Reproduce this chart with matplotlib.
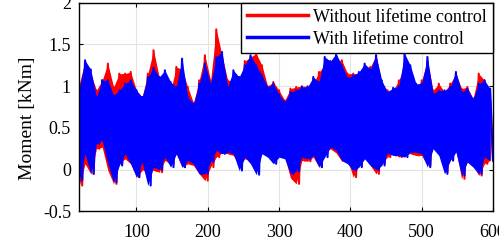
import numpy as np
import matplotlib
matplotlib.use('Agg')
import matplotlib.pyplot as plt

# time bins (start of each bin); peak read at t, trough at t+4
t_bins = np.arange(20, 600, 8)

# upper / lower envelope of each series [kNm]
red_hi = [1.03, 1.30, 1.15, 0.95, 1.07, 1.27, 0.99, 1.15, 1.15, 1.17,
          0.95, 0.87, 1.15, 1.43, 1.11, 1.15, 0.95, 1.23, 1.20, 0.99,
          0.80, 1.07, 1.37, 1.07, 1.68, 1.37, 1.07, 1.07, 1.03, 1.30,
          1.35, 1.39, 1.25, 1.00, 1.05, 0.95, 0.83, 0.97, 0.99, 1.00,
          1.00, 1.03, 1.17, 1.25, 1.20, 1.30, 1.31, 1.15, 1.15, 1.15,
          1.23, 1.23, 1.37, 1.03, 0.95, 0.95, 1.07, 1.25, 1.17, 0.95,
          1.07, 1.30, 0.95, 1.03, 0.93, 1.03, 1.15, 0.97, 0.99, 0.85,
          1.15, 1.07, 0.85]
red_lo = [-0.19, 0.07, -0.05, 0.25, 0.27, -0.01, -0.17, 0.07, 0.13, 0.07,
          -0.09, -0.01, 0.03, -0.01, -0.03, 0.11, 0.07, 0.19, 0.03, 0.07,
          0.05, -0.05, -0.13, 0.03, 0.15, 0.20, 0.19, 0.17, 0.05, 0.13,
          0.11, 0.10, 0.25, 0.20, 0.15, 0.20, 0.15, -0.10, -0.17, 0.11,
          0.10, 0.15, 0.03, 0.20, 0.25, 0.20, 0.10, 0.12, -0.09, 0.05,
          0.14, 0.05, -0.05, 0.07, 0.15, 0.20, 0.15, 0.19, 0.19, 0.17,
          0.17, 0.05, 0.27, 0.20, -0.03, 0.11, 0.23, -0.11, 0.11, 0.05,
          -0.07, 0.07, 0.11]
blue_hi = [0.98, 1.31, 1.20, 0.87, 1.07, 1.07, 0.89, 0.95, 1.03, 1.07,
           0.95, 0.87, 1.11, 1.22, 1.11, 1.19, 1.05, 0.99, 1.33, 0.87,
           0.79, 1.03, 1.27, 1.03, 1.35, 1.41, 0.99, 1.19, 1.11, 1.25,
           1.37, 1.25, 1.13, 0.99, 1.03, 0.90, 0.81, 0.93, 0.95, 0.99,
           0.99, 1.11, 1.05, 1.35, 1.30, 1.39, 1.25, 1.10, 1.13, 1.17,
           1.27, 1.20, 1.37, 1.07, 0.93, 0.98, 1.00, 1.39, 1.25, 1.03,
           1.03, 1.35, 0.91, 0.95, 0.95, 0.99, 1.17, 0.93, 0.97, 0.85,
           1.03, 1.07, 0.97]
blue_lo = [-0.13, 0.19, -0.05, 0.31, 0.35, 0.07, -0.15, 0.05, 0.19, 0.07,
           -0.09, 0.09, -0.19, 0.03, 0.00, 0.15, 0.03, 0.19, 0.03, 0.11,
           0.07, -0.05, -0.05, 0.09, 0.23, 0.19, 0.21, 0.19, -0.01, 0.15,
           0.07, -0.06, 0.19, 0.15, 0.07, 0.15, 0.13, -0.05, -0.02, 0.15,
           0.13, 0.17, 0.03, 0.15, 0.27, 0.23, 0.11, 0.07, -0.01, 0.03,
           0.13, 0.05, 0.00, 0.05, 0.20, 0.17, 0.17, 0.15, 0.21, 0.21,
           0.19, 0.03, 0.25, 0.17, -0.05, 0.11, 0.21, -0.07, 0.09, 0.03,
           -0.05, 0.15, 0.11]

x_ticks = [100, 200, 300, 400, 500, 600]
y_ticks = [-0.5, 0, 0.5, 1, 1.5, 2]

plt.rcParams['font.family'] = ['Liberation Serif', 'DejaVu Serif']
plt.rcParams['font.size'] = 13
plt.rcParams['axes.unicode_minus'] = False

# interleave peaks and troughs into one oscillating trace
t = np.column_stack([t_bins, t_bins + 4]).ravel()
red = np.column_stack([red_hi, red_lo]).ravel()
blue = np.column_stack([blue_hi, blue_lo]).ravel()

fig = plt.figure(figsize=(4.99, 2.43), dpi=100)
ax = fig.add_axes([0.159, 0.130, 0.829, 0.859])

# the signal oscillates faster than a pixel, so the band between
# envelopes shows as solid colour; blue sits on top of red
ax.fill_between(t_bins, red_lo, red_hi, color='#ff0000', lw=0, zorder=2.0)
ax.plot(t, red, color='#ff0000', lw=1.5, zorder=2.1,
        label='Without lifetime control')
ax.fill_between(t_bins, blue_lo, blue_hi, color='#0000ff', lw=0, zorder=2.2)
ax.plot(t, blue, color='#0000ff', lw=1.5, zorder=2.3,
        label='With lifetime control')

ax.set_xlim(20, 600)
ax.set_ylim(-0.5, 2)
ax.set_xticks(x_ticks)
ax.set_yticks(y_ticks)
ax.set_yticklabels(['%g' % v for v in y_ticks])
ax.grid(True, color='#e3e3e3', lw=0.8)
ax.set_axisbelow(True)
ax.tick_params(direction='in', top=True, right=True, length=3, width=0.8)
ax.tick_params(axis='x', pad=9)
ax.tick_params(axis='y', pad=6)
for s in ax.spines.values():
    s.set_linewidth(1)
    s.set_zorder(3)

ax.set_ylabel('Moment [kNm]', fontsize=14)
ax.yaxis.set_label_coords(-0.105, 0.445)

leg = ax.legend(loc='upper right', bbox_to_anchor=(1, 1), borderaxespad=0,
                fancybox=False, framealpha=1, edgecolor='black',
                handlelength=3.4, handletextpad=0.28, borderpad=0.33,
                labelspacing=0.27)
leg.get_frame().set_linewidth(1)
leg.set_zorder(5)
for line in leg.get_lines():
    line.set_linewidth(2.5)

fig.savefig('out.png', dpi=100)
